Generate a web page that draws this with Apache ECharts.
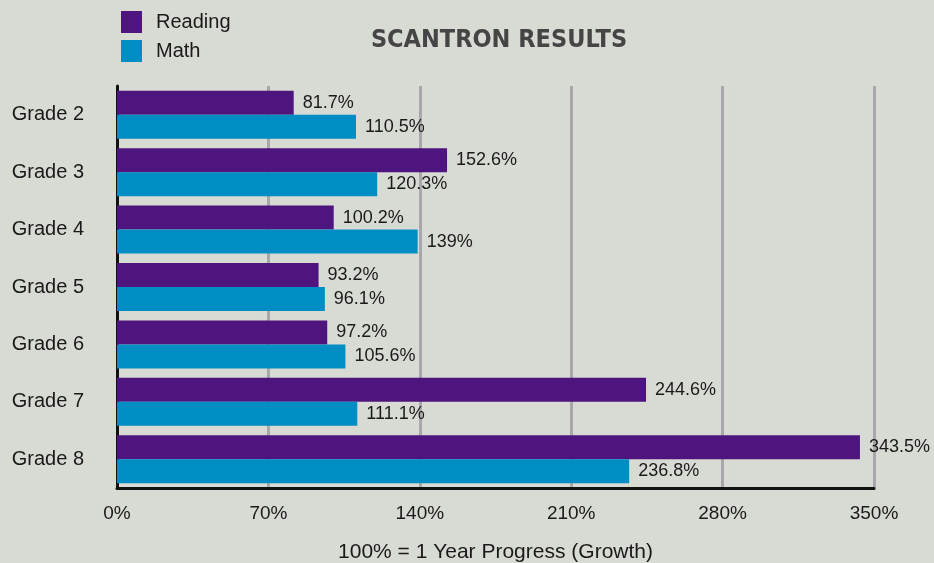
<!DOCTYPE html>
<html>
<head>
<meta charset="utf-8">
<script src="https://cdn.jsdelivr.net/npm/echarts@6/dist/echarts.min.js"></script>
<style>
  html, body { margin: 0; padding: 0; background: #d8dad4; }
  #main { width: 934px; height: 563px; }
</style>
</head>
<body>
<div id="main"></div>
<script>
const grades = ['Grade 2', 'Grade 3', 'Grade 4', 'Grade 5', 'Grade 6', 'Grade 7', 'Grade 8']
const reading = [81.7, 152.6, 100.2, 93.2, 97.2, 244.6, 343.5]
const math = [110.5, 120.3, 139, 96.1, 105.6, 111.1, 236.8]
const xTicks = [0, 70, 140, 210, 280, 350]

const font = 'Liberation Sans'
let myChart = echarts.init(document.getElementById('main'))

const labelStyle = {
    show: true,
    position: 'right',
    distance: 9,
    color: '#1a1a1a',
    fontFamily: font,
    fontSize: 18,
    formatter: p => p.value + '%'
}

myChart.setOption({
    backgroundColor: '#d8dad4',
    animation: false,
    title: {
        text: 'SCANTRON RESULTS',
        left: 494,
        top: 23,
        textAlign: 'center',
        textStyle: {
            fontFamily: '"DejaVu Sans Condensed", "DejaVu Sans"',
            fontWeight: 'bold',
            fontSize: 25,
            color: '#454545'
        }
    },
    legend: {
        orient: 'vertical',
        left: 116,
        top: 6,
        itemWidth: 21,
        itemHeight: 22,
        itemGap: 7,
        icon: 'rect',
        textStyle: { fontFamily: font, fontSize: 20, color: '#1a1a1a', padding: [0, 0, 0, 9] },
        data: ['Reading', 'Math']
    },
    grid: { left: 117, right: 60, top: 86, bottom: 75, outerBoundsMode: 'none' },
    xAxis: {
        type: 'value',
        min: 0,
        max: 350,
        interval: 70,
        name: '100% = 1 Year Progress (Growth)',
        nameLocation: 'middle',
        nameGap: 54,
        nameTextStyle: { fontFamily: font, fontSize: 21, color: '#1a1a1a' },
        axisLine: { show: true, lineStyle: { color: '#111', width: 3 } },
        axisTick: { show: false },
        axisLabel: {
            margin: 16,
            fontFamily: font,
            fontSize: 19,
            color: '#1a1a1a',
            formatter: v => xTicks.includes(v) ? v + '%' : ''
        },
        splitLine: { show: true, lineStyle: { color: '#a8a8a8', width: 3 } }
    },
    yAxis: {
        type: 'category',
        inverse: true,
        data: grades,
        axisLine: { show: true, lineStyle: { color: '#111', width: 3 } },
        axisTick: { show: false },
        axisLabel: { margin: 33, fontFamily: font, fontSize: 20, color: '#1a1a1a' }
    },
    series: [{
        name: 'Reading',
        type: 'bar',
        data: reading,
        barWidth: 24,
        barGap: '0%',
        itemStyle: { color: '#4e157e' },
        label: labelStyle
    }, {
        name: 'Math',
        type: 'bar',
        data: math,
        barWidth: 24,
        itemStyle: { color: '#008dc3' },
        label: labelStyle
    }]
})
</script>
</body>
</html>
